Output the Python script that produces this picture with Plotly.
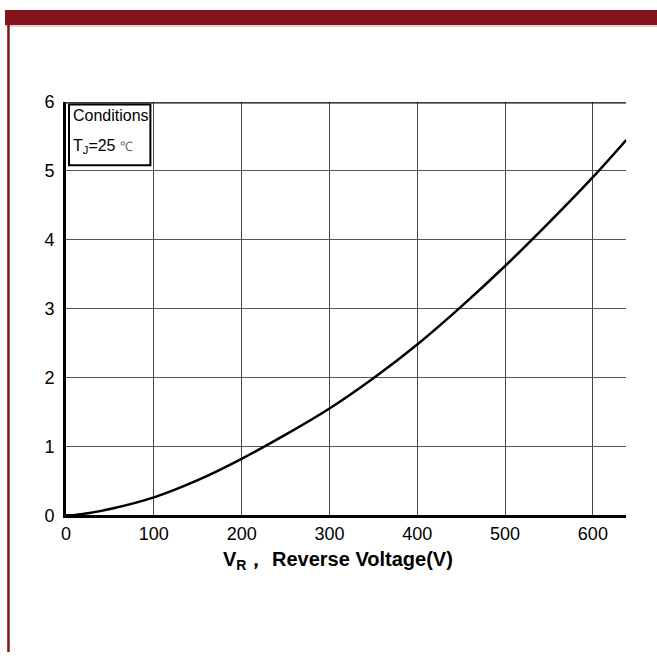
import plotly.graph_objects as go

# Data
voltage = [0, 8, 25, 50, 100, 150, 200, 250, 300, 350, 400, 450, 500, 550, 600, 638]
value = [0, 0.0, 0.03, 0.09, 0.26, 0.51, 0.82, 1.17, 1.55, 1.99, 2.48, 3.03, 3.62, 4.25, 4.91, 5.45]
x_ticks = [0, 100, 200, 300, 400, 500, 600]
y_ticks = [0, 1, 2, 3, 4, 5, 6]

W, H = 657, 662
L, R, T, B = 61.5, 626, 95, 521
RED = "#83141b"

fig = go.Figure()
fig.add_trace(go.Scatter(x=voltage, y=value, mode="lines",
                         line=dict(color="black", width=2.5, shape="spline"),
                         showlegend=False, hoverinfo="skip"))

font = dict(family="Liberation Sans, Arial, sans-serif", size=18, color="black")

fig.update_layout(
    width=W, height=H, margin=dict(l=0, r=0, t=0, b=0),
    paper_bgcolor="white", plot_bgcolor="white",
    font=font,
    xaxis=dict(domain=[L / W, R / W], range=[0, 638], tickvals=x_ticks,
               showgrid=True, gridcolor="#444", gridwidth=1,
               showline=True, linecolor="black", linewidth=3,
               zeroline=False, ticks="", ticklabelstandoff=0, tickfont=font),
    yaxis=dict(domain=[1 - B / H, 1 - T / H], range=[0, 6], tickvals=y_ticks,
               showgrid=True, gridcolor="#555", gridwidth=1,
               showline=True, linecolor="black", linewidth=3,
               zeroline=False, ticks="", ticklabelstandoff=5, tickfont=font),
    shapes=[
        # top border of the plot
        dict(type="line", xref="x", yref="y", x0=0, x1=638, y0=6, y1=6,
             line=dict(color="black", width=2.5)),
        # conditions box
        dict(type="rect", xref="paper", yref="paper",
             x0=64.5 / W, x1=146.5 / W, y0=1 - 160 / H, y1=1 - 97.5 / H,
             line=dict(color="black", width=2), fillcolor="white", layer="above"),
        # red top band
        dict(type="rect", xref="paper", yref="paper", x0=0, x1=1,
             y0=1 - 15.5 / H, y1=1, line=dict(width=0), fillcolor=RED),
        # thin light line under band
        dict(type="line", xref="paper", yref="paper", x0=0, x1=1,
             y0=1 - 16.5 / H, y1=1 - 16.5 / H, line=dict(color="#c9a0a3", width=1)),
        # left red border
        dict(type="line", xref="paper", yref="paper", x0=3.5 / W, x1=3.5 / W,
             y0=0, y1=1 - 15 / H, line=dict(color=RED, width=2.5)),
    ],
    annotations=[
        dict(xref="paper", yref="paper", x=67 / W, y=1 - 109 / H, xanchor="left",
             yanchor="middle", showarrow=False, text="Conditions",
             font=dict(family="Liberation Sans, Arial, sans-serif", size=16, color="black")),
        dict(xref="paper", yref="paper", x=67 / W, y=1 - 141 / H, xanchor="left",
             yanchor="middle", showarrow=False,
             text="T<sub>J</sub>=25 <span style='color:#666;font-size:13px'>℃</span>",
             font=dict(family="Liberation Sans, Arial, sans-serif", size=16, color="black")),
        dict(xref="paper", yref="paper", x=336 / W, y=1 - 568 / H, xanchor="center",
             yanchor="middle", showarrow=False,
             text="<b>V<sub>R</sub>， Reverse Voltage(V)</b>",
             font=dict(family="Liberation Sans, Arial, sans-serif", size=20, color="black")),
    ],
)

fig.write_html("out.html")
